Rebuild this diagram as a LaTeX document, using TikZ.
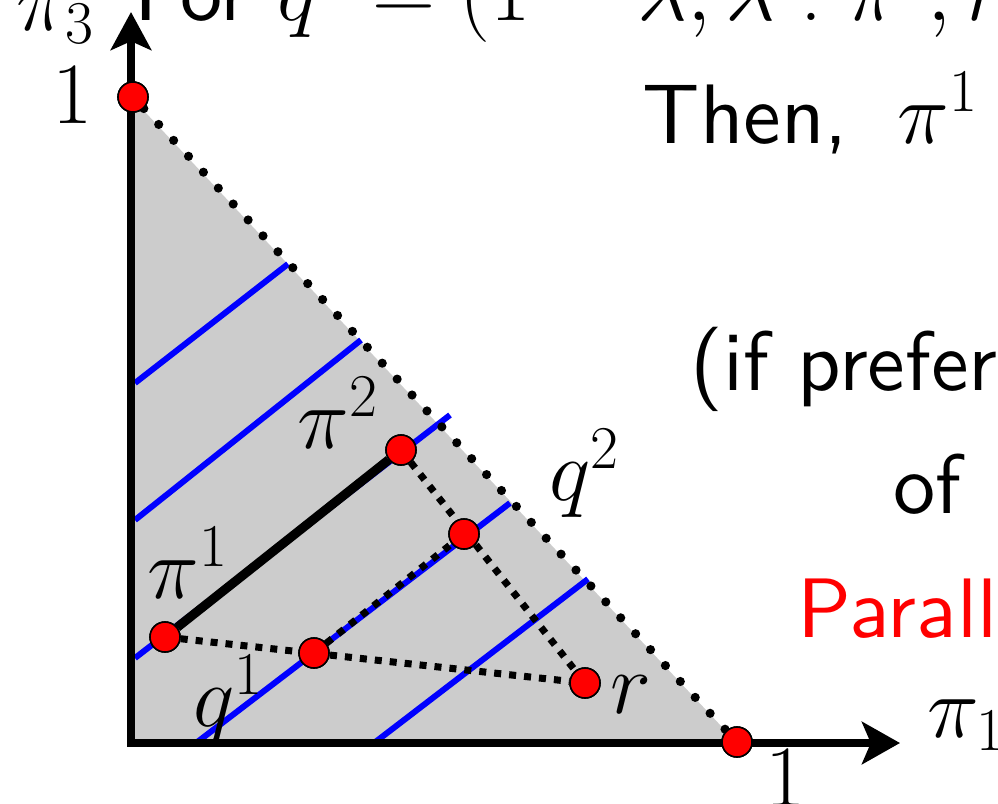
\documentclass[tikz,border=0pt]{standalone}
\usepackage{fontspec}
\newfontfamily\tensans{lmsans10-regular}[Extension=.otf]
\usetikzlibrary{arrows.meta}
\begin{document}
\begin{tikzpicture}[x=0.01cm,y=-0.01cm,
  redpt/.style={circle,draw=black,line width=0.45pt,fill=red,minimum size=0.3cm,inner sep=0pt},
  lbl/.style={inner sep=0pt,anchor=base west,font=\fontsize{24}{29}\selectfont\tensans},
  blueln/.style={blue,line width=1.7pt},
  sqdot/.style={line width=2pt,dash pattern=on 2pt off 2.27pt},
  hypdot/.style={line width=2.6pt,line cap=round,dash pattern=on 0pt off 6.2pt},
  axisln/.style={line width=2.3pt,{Stealth[length=10.8pt,width=11.5pt,inset=2.5pt]}-{Stealth[length=10.8pt,width=12pt,inset=2.5pt]}},
]
\path[use as bounding box] (0,0) rectangle (998,803);
\clip (0,0) rectangle (998,803);

% coordinates
\coordinate (O) at (131,743);
\coordinate (Ytip) at (131,12);
\coordinate (Xtip) at (900,743);
\coordinate (Top) at (131,97);
\coordinate (Right) at (737,743);

% simplex
\fill[black!20] (Top) -- (O) -- (Right) -- cycle;

% blue parallel lines
\coordinate (b1a) at (135,383); \coordinate (b1b) at (288,264);
\coordinate (b2a) at (135,520); \coordinate (b2b) at (361,340);
\coordinate (b3a) at (135,658); \coordinate (b3b) at (450,415);
\coordinate (b4a) at (196,743); \coordinate (b4b) at (510,503);
\coordinate (b5a) at (374,743); \coordinate (b5b) at (588,579);
\draw[blueln] (b1a) -- (b1b);
\draw[blueln] (b2a) -- (b2b);
\draw[blueln] (b3a) -- (b3b);
\draw[blueln] (b4a) -- (b4b);
\draw[blueln] (b5a) -- (b5b);

% points
\node[redpt] (e3) at (133,97) {};
\node[redpt] (e1) at (737,742) {};
\node[redpt] (p1) at (165,637) {};
\node[redpt] (p2) at (401,450) {};
\node[redpt] (q1) at (314,653) {};
\node[redpt] (q2) at (464,534) {};
\node[redpt] (r) at (585,683) {};

% connectors
\draw[line width=2.6pt] (p1) -- (p2);
\draw[sqdot] (p1) -- (r);
\draw[sqdot] (p2) -- (r);
\draw[sqdot] (q1) -- (q2);
\draw[hypdot] (e3) -- (e1);

% axes
\draw[axisln] (Ytip) -- (O) -- (Xtip);

% redraw points on top
\foreach \n in {e3,e1,p1,p2,q1,q2,r} {\node[redpt] at (\n) {};}

% labels
\node[lbl] (lp2) at (297,448) {$\pi^2$};
\node[lbl] (lp1) at (147,598) {$\pi^1$};
\node[lbl] (lq1) at (193,726) {$q^1$};
\node[lbl] (lq2) at (549,500) {$q^2$};
\node[lbl] (lr) at (610,713) {$r$};
\node[lbl] (one3) at (52,123) {$1$};
\node[lbl] (one1) at (765,806) {$1$};
\node[lbl] (lx) at (927,737) {$\pi_1$};
\node[lbl] (ly) at (16,30) {$\pi_3$};

% slide text
\node[lbl] (tFor) at (134,21) {For $q^1=(1-\lambda,\lambda:\pi^1,r)$};
\node[lbl] (tThen) at (642,143) {Then,\hspace{6pt} $\pi^1\succ$};
\node[lbl] (tIf) at (690,390) {(if preferences};
\node[lbl] (tOf) at (893,513) {of};
\node[lbl,text=red] (tPar) at (797,637) {Parallel};
\end{tikzpicture}
\end{document}
